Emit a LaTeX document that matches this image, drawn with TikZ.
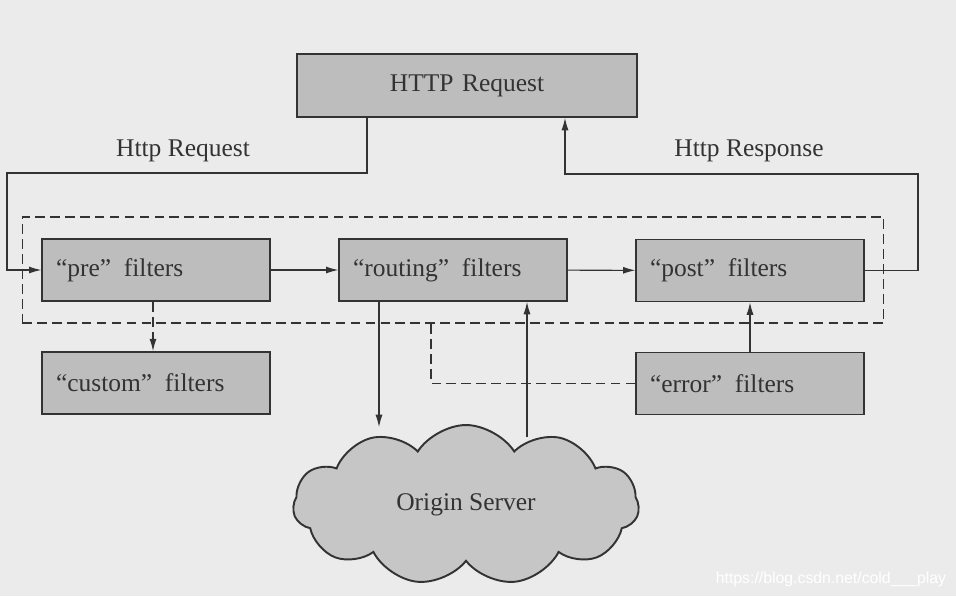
\documentclass[tikz,border=0pt]{standalone}
\usepackage{fontspec}
\setmainfont{Liberation Serif}
\newfontfamily\markfont{Liberation Sans}
\usetikzlibrary{arrows.meta,shapes.symbols}
\definecolor{paper}{HTML}{EBEBEB}
\definecolor{boxgray}{HTML}{BDBDBD}
\definecolor{cloudgray}{HTML}{C6C6C6}
\definecolor{ink}{HTML}{333333}
\begin{document}
\begin{tikzpicture}[x=0.02cm,y=-0.02cm,
  filterbox/.style={draw=ink,line width=1.1pt,fill=boxgray,minimum width=4.55cm,minimum height=1.24cm,
    text width=4.0cm,align=left,inner sep=0pt,text=ink,font=\fontsize{14.5}{17}\selectfont},
  link/.style={draw=ink,line width=0.6pt},
  tip/.style={-{Latex[length=7pt,width=4pt]}},
  zone/.style={draw=ink,line width=0.6pt,dash pattern=on 5.5pt off 3pt},
  lbl/.style={text=ink,font=\fontsize{14.5}{17}\selectfont}]

\useasboundingbox[fill=paper] (0,0) rectangle (956,596);

\node[filterbox,minimum width=6.8cm,minimum height=1.26cm,text width=6.8cm,align=center] (req) at (467,85.5) {HTTP Request};

\node[zone,minimum width=17.24cm,minimum height=2.12cm] (stage) at (453,270) {};

\node[filterbox] (pre) at (156,270) {“pre”\hspace{0.5em}filters};
\node[filterbox] (routing) at (453,270) {“routing”\hspace{0.5em}filters};
\node[filterbox] (post) at (750,270.5) {“post”\hspace{0.5em}filters};

% lower row
\node[filterbox] (custom) at (156,383) {“custom”\hspace{0.5em}filters};
\node[filterbox] (error) at (750,383.5) {“error”\hspace{0.5em}filters};

\node[cloud,cloud puffs=11,cloud puff arc=115,aspect=2.2,draw=ink,line width=1.1pt,fill=cloudgray,
  minimum width=6.92cm,minimum height=3.2cm,lbl] (origin) at (466,505) {Origin Server};

\node[lbl] (lblreq) at (183,151) {Http Request};
\node[lbl] (lblresp) at (749,151) {Http Response};

\coordinate (reqturn) at (7,173);
\coordinate (respturn) at (918,174);
\coordinate (srvin) at (379,427);
\coordinate (srvout) at (527,437);
\coordinate (errup) at (431,323);

\draw[link,tip] ([xshift=-2cm]req.south) |- (reqturn) |- (pre.west);
\draw[link,tip] (post.east) -| (respturn) -| ([xshift=1.96cm]req.south);
\draw[link,tip] (pre) -- (routing);
\draw[link,tip] (routing) -- (post);
\draw[link,tip,dash pattern=on 5.5pt off 3pt] (pre.south -| 153,0) -- (custom.north -| 153,0);
\draw[link,tip] (routing.south -| srvin) -- (srvin);
\draw[link,tip] (srvout) -- (routing.south -| srvout);
\draw[link,tip] (error) -- (post);
\draw[link,dash pattern=on 5.5pt off 3pt] (error.west) -| (errup);

\node[text=white,font=\markfont\fontsize{9}{11}\selectfont] (mark) at (831,579) {https://blog.csdn.net/cold\_\_\_play};

\end{tikzpicture}
\end{document}
